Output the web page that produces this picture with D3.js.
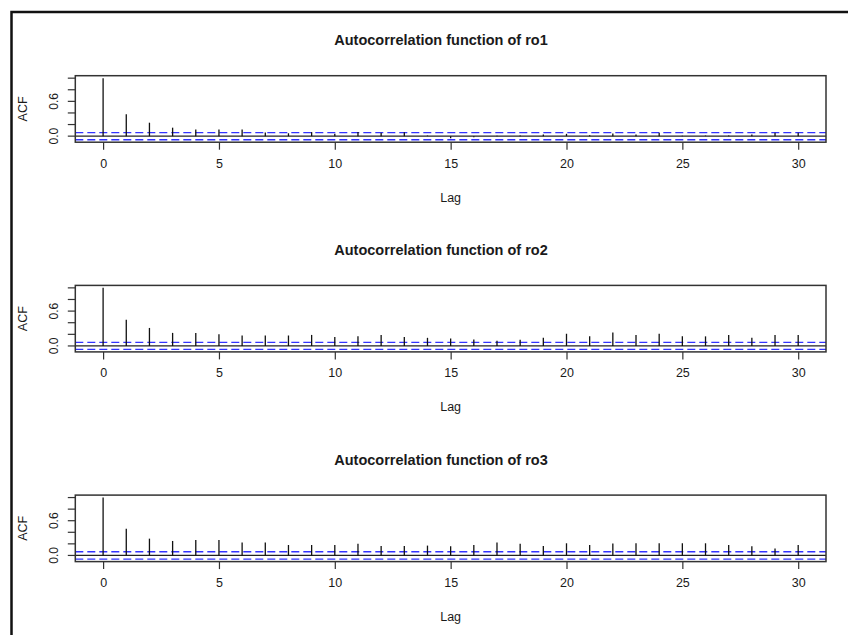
<!DOCTYPE html>
<html>
<head>
<meta charset="utf-8">
<script src="https://cdn.jsdelivr.net/npm/d3@7"></script>
<style>
  body { margin: 0; background: #fff; }
  text { font-family: "Liberation Sans", Arial, sans-serif; fill: #1a1a1a; }
</style>
</head>
<body>
<div id="chart"></div>
<script>
// series names and acf values (lag 0..30)
var seriesNames = ["ro1", "ro2", "ro3"];
var lags = d3.range(0, 31);
var acfRo1 = [1, 0.377, 0.232, 0.146, 0.116, 0.116, 0.116, 0.064, 0.05, 0.07, 0.04,
    0.07, 0.06, 0.065, 0.01, -0.035, -0.02, 0.005, 0.01, 0.03, 0.04,
    0.015, 0.045, 0.03, 0.06, 0.005, 0.01, 0.01, 0.03, 0.06, 0.06];
var acfRo2 = [1, 0.45, 0.31, 0.225, 0.225, 0.2, 0.18, 0.18, 0.18, 0.19, 0.155,
    0.165, 0.19, 0.155, 0.14, 0.13, 0.11, 0.09, 0.105, 0.14, 0.21,
    0.165, 0.23, 0.19, 0.21, 0.165, 0.165, 0.19, 0.14, 0.19, 0.19];
var acfRo3 = [1, 0.46, 0.29, 0.25, 0.265, 0.265, 0.225, 0.225, 0.18, 0.18, 0.18,
    0.2, 0.165, 0.165, 0.17, 0.16, 0.18, 0.225, 0.2, 0.165, 0.21,
    0.18, 0.205, 0.21, 0.21, 0.21, 0.21, 0.18, 0.16, 0.12, 0.18];
var ciBounds = [0.062, 0.06, 0.064];
var xTicks = [0, 5, 10, 15, 20, 25, 30];
var yTicks = [0, 0.2, 0.4, 0.6, 0.8, 1.0];
var yTickLabels = ["0.0", "", "", "0.6", "", ""];

var allAcf = [acfRo1, acfRo2, acfRo3];

var W = 848, H = 635;
var left = 75.3, right = 826;
var panelStep = 209.7, boxTop = 75.7, boxH = 66.5;

var svg = d3.select("#chart").append("svg")
    .attr("width", W)
    .attr("height", H);

// outer frame
svg.append("rect")
    .attr("x", 11.5).attr("y", 12)
    .attr("width", 860).attr("height", 640)
    .attr("fill", "none")
    .attr("stroke", "#111")
    .attr("stroke-width", 2.5);

var x = d3.scaleLinear().domain([-1.2, 31.2]).range([left, right]);

seriesNames.forEach(function(name, i) {
    var acf = allAcf[i];
    var ci = ciBounds[i];
    var top = boxTop + panelStep * i;
    var lo = Math.min(-ci, d3.min(acf)), hi = 1;
    var ext = 0.04 * (hi - lo);
    var y = d3.scaleLinear().domain([lo - ext, hi + ext]).range([top + boxH, top]);

    var g = svg.append("g");

    // title
    g.append("text")
        .attr("x", 441).attr("y", top - 30.5)
        .attr("text-anchor", "middle")
        .attr("font-size", "14.5px")
        .attr("font-weight", "bold")
        .text("Autocorrelation function of " + name);

    // x axis
    var xAxis = d3.axisBottom(x).tickValues(xTicks).tickSize(7.5).tickPadding(9)
        .tickFormat(d3.format("d"));
    var gx = g.append("g")
        .attr("transform", "translate(0," + (top + boxH) + ")")
        .call(xAxis);
    gx.select(".domain").remove();
    gx.selectAll("line").attr("stroke", "#333").attr("stroke-width", 1.2);
    gx.selectAll("text").attr("font-size", "12.5px").attr("font-family", "Liberation Sans, Arial, sans-serif").attr("fill", "#1a1a1a");

    // y axis
    var yAxis = d3.axisLeft(y).tickValues(yTicks).tickSize(7.5).tickPadding(9)
        .tickFormat(function(d, j) { return yTickLabels[j]; });
    var gy = g.append("g")
        .attr("transform", "translate(" + left + ",0)")
        .call(yAxis);
    gy.select(".domain").remove();
    gy.selectAll("line").attr("stroke", "#333").attr("stroke-width", 1.2);
    gy.selectAll("text")
        .attr("font-size", "12px")
        .attr("font-family", "Liberation Sans, Arial, sans-serif")
        .attr("fill", "#1a1a1a")
        .attr("text-anchor", "middle")
        .attr("dy", null)
        .attr("transform", function(d) { return "translate(" + (-22) + "," + y(d) + ") rotate(-90) translate(0,4.5)"; })
        .attr("x", 0).attr("y", 0);
    gy.selectAll(".tick").attr("transform", "translate(0,0)");
    gy.selectAll(".tick line")
        .attr("y1", function(d) { return y(d); })
        .attr("y2", function(d) { return y(d); });

    // axis labels
    g.append("text")
        .attr("transform", "translate(26.5," + (top + boxH / 2) + ") rotate(-90)")
        .attr("text-anchor", "middle")
        .attr("font-size", "12.5px")
        .text("ACF");
    g.append("text")
        .attr("x", (left + right) / 2).attr("y", top + 126)
        .attr("text-anchor", "middle")
        .attr("font-size", "12.5px")
        .text("Lag");

    // zero line
    g.append("line")
        .attr("x1", left).attr("x2", right)
        .attr("y1", y(0)).attr("y2", y(0))
        .attr("stroke", "#222").attr("stroke-width", 1.3);

    // confidence bounds
    g.selectAll("line.ci")
        .data([ci, -ci])
        .enter().append("line")
        .attr("class", "ci")
        .attr("x1", left).attr("x2", right)
        .attr("y1", function(d) { return y(d); })
        .attr("y2", function(d) { return y(d); })
        .attr("stroke", "#3333ff")
        .attr("stroke-width", 1.3)
        .attr("stroke-dasharray", "8,4");

    // spikes
    g.selectAll("line.spike")
        .data(lags)
        .enter().append("line")
        .attr("class", "spike")
        .attr("x1", function(d) { return x(d); })
        .attr("x2", function(d) { return x(d); })
        .attr("y1", y(0))
        .attr("y2", function(d) { return y(acf[d]); })
        .attr("stroke", "#111")
        .attr("stroke-width", 1.3);

    // box
    g.append("rect")
        .attr("x", left).attr("y", top)
        .attr("width", right - left).attr("height", boxH)
        .attr("fill", "none")
        .attr("stroke", "#333")
        .attr("stroke-width", 1.5);
});
</script>
</body>
</html>
